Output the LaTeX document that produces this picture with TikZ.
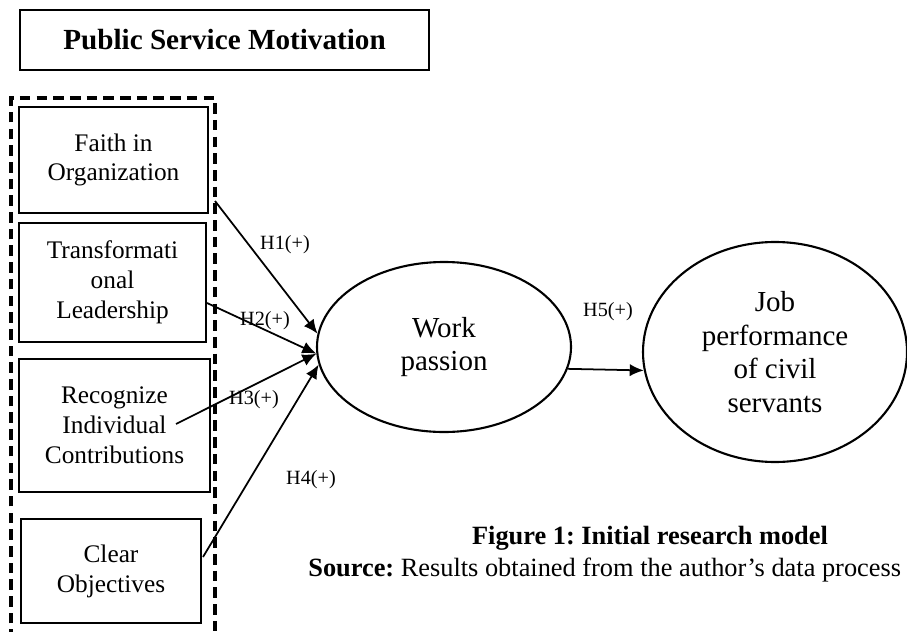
\documentclass[tikz,border=0pt]{standalone}
\usepackage{fontspec}
\setmainfont{Liberation Serif}
\frenchspacing
\usetikzlibrary{arrows.meta,shapes.geometric}
\tikzset{
  dimbox/.style={rectangle,draw,line width=1.1pt,align=center,inner sep=0pt,
    font=\fontsize{14.4}{17}\selectfont},
  latent/.style={ellipse,draw,line width=1.2pt,align=center,inner sep=0pt,
    font=\fontsize{16.5}{19}\selectfont},
  hyp/.style={font=\fontsize{11.5}{13}\selectfont},
  path/.style={->,line width=1pt}
}
\begin{document}
\begin{tikzpicture}[>={Latex[length=8pt,width=7pt]}]
\useasboundingbox (0,0) rectangle (18.14,-12.62);
% title and dashed group
\draw (4.49,-.80) node[rectangle,draw,line width=1.5pt,minimum width=8.18cm,minimum height=1.2cm,
  font=\bfseries\fontsize{16.6}{19}\selectfont] (psm) {Public Service Motivation};
\draw[line width=2pt,dash pattern=on 6pt off 3.5pt] (.22,-12.8) -- (.22,-1.96) -- (4.30,-1.96) -- (4.30,-12.8);
% dimensions
\draw (2.27,-3.20) node[dimbox,minimum width=3.78cm,minimum height=2.12cm] (faith) {Faith in\\Organization};
\draw (2.25,-5.65) node[dimbox,minimum width=3.74cm,minimum height=2.38cm] (lead) {Transformati\\onal\\Leadership};
\draw (2.29,-8.51) node[dimbox,minimum width=3.82cm,minimum height=2.66cm] (recog) {Recognize\\Individual\\Contributions};
\draw (2.22,-11.42) node[dimbox,minimum width=3.60cm,minimum height=2.08cm] (goal) {Clear\\Objectives};
% latent variables
\draw (8.88,-6.94) node[latent,minimum width=5.08cm,minimum height=3.40cm] (wp) {Work\\passion};
\draw (15.50,-7.04) node[latent,minimum width=5.28cm,minimum height=4.40cm] (jp) {Job\\performance\\of civil\\servants};
% start points of the paths
\coordinate (s1) at (4.30,-4.02);
\coordinate (s2) at (4.14,-6.06);
\coordinate (s3) at (3.52,-8.48);
\coordinate (s4) at (4.06,-11.14);
\draw[path] (s1) -- (wp.174);
\draw[path] (s2) -- (wp.183);
\draw[path] (s3) -- (wp.183);
\draw[path] (s4) -- (wp.188);
\draw[path] (wp.-10) -- (jp.188);
\draw (5.70,-4.90) node[hyp] (h1) {H1(+)};
\draw (5.30,-6.42) node[hyp] (h2) {H2(+)};
\draw (5.08,-8.00) node[hyp] (h3) {H3(+)};
\draw (6.22,-9.60) node[hyp] (h4) {H4(+)};
\draw (12.16,-6.24) node[hyp] (h5) {H5(+)};
% caption
\draw (13.00,-10.76) node[font=\bfseries\fontsize{15}{17}\selectfont] (cap) {Figure 1: Initial research model};
\draw (6.16,-11.40) node[anchor=west,inner sep=0pt,font=\fontsize{15}{17}\selectfont] (src)
  {\textbf{Source:} Results obtained from the author’s data process};
\end{tikzpicture}
\end{document}
